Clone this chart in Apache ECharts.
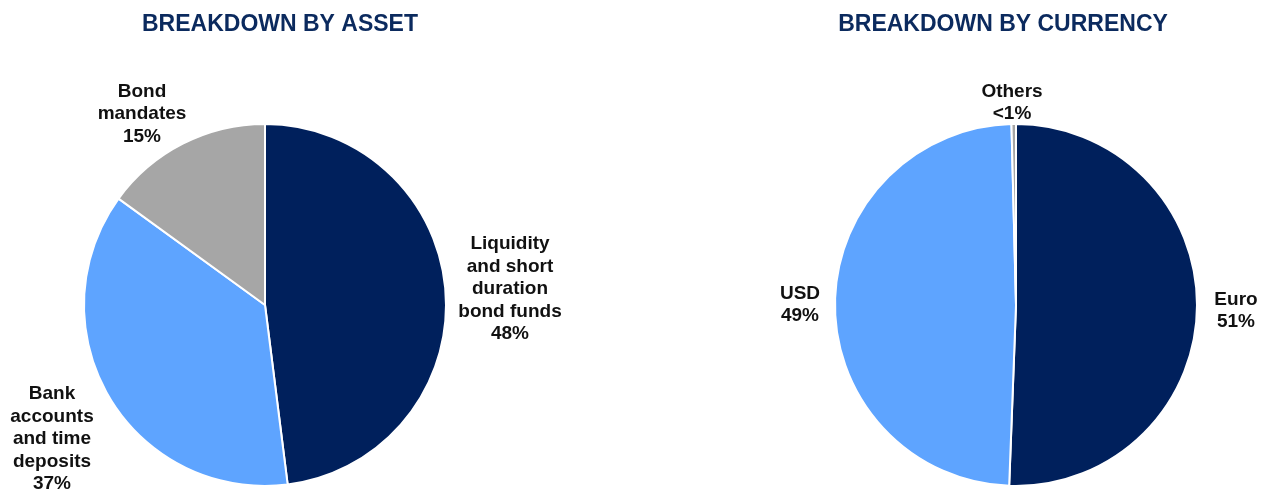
<!DOCTYPE html>
<html>
<head>
<meta charset="utf-8">
<script src="https://cdn.jsdelivr.net/npm/echarts@6/dist/echarts.min.js"></script>
<style>
html,body{margin:0;padding:0;background:#fff;}
#chart{width:1268px;height:492px;}
</style>
</head>
<body>
<div id="chart"></div>
<script>
// ---- data ----
const assetCategories = ['Liquidity\nand short\nduration\nbond funds', 'Bank\naccounts\nand time\ndeposits', 'Bond\nmandates'];
const assetValues = [48, 37, 15];
const currencyCategories = ['Euro', 'USD', 'Others'];
const currencyValues = [50.6, 49.0, 0.4];
const titles = ['BREAKDOWN BY ASSET', 'BREAKDOWN BY CURRENCY'];

// ---- style / layout ----
const NAVY = '#00205C';
const LIGHT = '#5EA4FF';
const GRAY = '#A6A6A6';
const assetColors = [NAVY, LIGHT, GRAY];
const currencyColors = [NAVY, LIGHT, GRAY];
const assetLabelPos = [[510, 289], [52, 439], [142, 114]];
const currencyLabelPos = [[1236, 311], [800, 305], [1012, 103]];
const FONT = "'Liberation Sans', Arial, sans-serif";

function pctText(p) {
  return p < 1 ? '<1%' : Math.round(p) + '%';
}

function makeSeries(cats, vals, colors, center, labelPos) {
  return {
    type: 'pie',
    center: center,
    radius: 181,
    startAngle: 90,
    clockwise: true,
    avoidLabelOverlap: false,
    animation: false,
    itemStyle: { borderColor: '#ffffff', borderWidth: 2 },
    emphasis: { disabled: true },
    label: {
      show: true,
      position: 'outside',
      color: '#111111',
      fontFamily: FONT,
      fontWeight: 'bold',
      fontSize: 19,
      lineHeight: 22.5,
      formatter: function (p) { return p.name + '\n' + pctText(p.value); }
    },
    labelLine: { show: false },
    labelLayout: function (p) {
      const pos = labelPos[p.dataIndex];
      return { x: pos[0], y: pos[1], align: 'center', verticalAlign: 'middle' };
    },
    data: cats.map(function (c, i) {
      return { name: c, value: vals[i], itemStyle: { color: colors[i] } };
    })
  };
}

const chart = echarts.init(document.getElementById('chart'), null, { renderer: 'canvas' });
chart.setOption({
  backgroundColor: '#ffffff',
  animation: false,
  title: [
    { text: titles[0], left: 280, top: 13, padding: 0, textAlign: 'center',
      textStyle: { fontFamily: FONT, fontWeight: 'bold', fontSize: 23, color: '#0B2A5E' } },
    { text: titles[1], left: 1003, top: 13, padding: 0, textAlign: 'center',
      textStyle: { fontFamily: FONT, fontWeight: 'bold', fontSize: 23, color: '#0B2A5E' } }
  ],
  series: [
    makeSeries(assetCategories, assetValues, assetColors, [265, 305], assetLabelPos),
    makeSeries(currencyCategories, currencyValues, currencyColors, [1016, 305], currencyLabelPos)
  ]
});
</script>
</body>
</html>
